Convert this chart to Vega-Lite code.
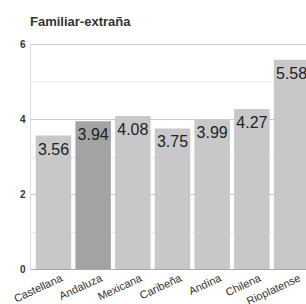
{
  "$schema": "https://vega.github.io/schema/vega-lite/v6.json",
  "autosize": "none",
  "width": 285,
  "height": 225,
  "padding": {"left": 30, "top": 44, "right": 0, "bottom": 35},
  "background": "white",
  "title": {
    "text": "Familiar-extraña",
    "anchor": "start",
    "frame": "group",
    "baseline": "alphabetic",
    "offset": 0,
    "font": "Liberation Sans",
    "fontSize": 13,
    "fontWeight": "bold",
    "color": "#333333"
  },
  "data": {
    "values": [
      {"variedad": "Castellana", "valor": 3.56, "grupo": "a"},
      {"variedad": "Andaluza", "valor": 3.94, "grupo": "b"},
      {"variedad": "Mexicana", "valor": 4.08, "grupo": "a"},
      {"variedad": "Caribeña", "valor": 3.75, "grupo": "a"},
      {"variedad": "Andina", "valor": 3.99, "grupo": "a"},
      {"variedad": "Chilena", "valor": 4.27, "grupo": "a"},
      {"variedad": "Rioplatense", "valor": 5.58, "grupo": "a"}
    ]
  },
  "encoding": {
    "x": {
      "field": "variedad",
      "type": "nominal",
      "sort": null,
      "scale": {"paddingInner": 0.106, "paddingOuter": 0.144},
      "axis": {
        "title": null,
        "labelAngle": -25,
        "labelAlign": "right",
        "labelBaseline": "top",
        "labelOffset": 6,
        "labelPadding": 3,
        "labelFont": "Liberation Sans",
        "labelFontSize": 11,
        "labelColor": "#333333",
        "ticks": false,
        "domainColor": "#aaaaaa",
        "grid": false
      }
    },
    "y": {
      "field": "valor",
      "type": "quantitative",
      "scale": {"domain": [0, 6], "nice": false},
      "axis": {
        "title": null,
        "values": [0, 1, 2, 3, 4, 5, 6],
        "labelExpr": "datum.value % 2 == 0 ? datum.label : ''",
        "labelFont": "Liberation Sans",
        "labelFontSize": 10,
        "labelFontWeight": "bold",
        "labelColor": "#333333",
        "labelPadding": 5,
        "ticks": false,
        "domain": false,
        "gridColor": {"condition": {"test": "datum.value % 2 == 0", "value": "#cccccc"}, "value": "#ebebeb"}
      }
    }
  },
  "layer": [
    {
      "mark": {"type": "bar"},
      "encoding": {
        "color": {
          "field": "grupo",
          "type": "nominal",
          "scale": {"domain": ["a", "b"], "range": ["#c8c8ca", "#a3a3a5"]},
          "legend": null
        }
      }
    },
    {
      "mark": {
        "type": "text",
        "baseline": "middle",
        "dy": 14,
        "font": "Liberation Sans",
        "fontSize": 16,
        "color": "#222222"
      },
      "encoding": {
        "text": {"field": "valor", "type": "quantitative", "format": ".2f"}
      }
    }
  ]
}
